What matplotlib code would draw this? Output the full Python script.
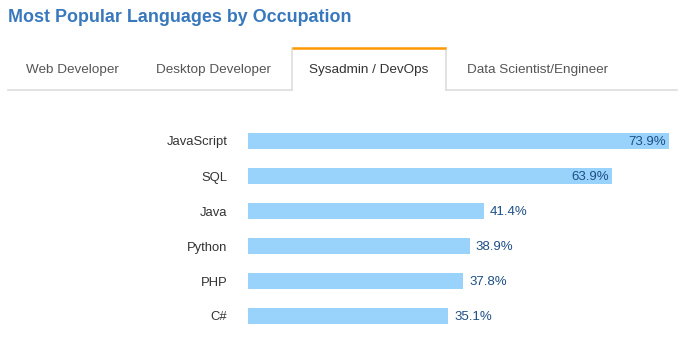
import matplotlib.pyplot as plt

plt.rcParams['font.family'] = ['Liberation Sans', 'DejaVu Sans']

# Dati
languages = ["JavaScript", "SQL", "Java", "Python", "PHP", "C#"]
shares = [73.9, 63.9, 41.4, 38.9, 37.8, 35.1]
tabs = ["Web Developer", "Desktop Developer", "Sysadmin / DevOps", "Data Scientist/Engineer"]
active_tab = 2

W, H = 690, 340
fig = plt.figure(figsize=(W / 100, H / 100), dpi=100)

# Livello di sfondo in coordinate pixel (titolo e schede)
bg = fig.add_axes([0, 0, 1, 1])
bg.set_xlim(0, W)
bg.set_ylim(H, 0)
bg.axis("off")

bg.text(8, 18, "Most Popular Languages by Occupation", fontsize=12.9, fontweight="bold",
        color="#3878bd", va="center", ha="left")

tab_centers = [72, 213, 369, 538]
tab_left, tab_right = 292, 446
for i, (name, cx) in enumerate(zip(tabs, tab_centers)):
    bg.text(cx, 69.5, name, fontsize=9.7, ha="center", va="center",
            color="#333333" if i == active_tab else "#555555")

# Linea di base delle schede, interrotta sotto la scheda attiva
bg.plot([8, tab_left], [90, 90], color="#dddddd", lw=1.2)
bg.plot([tab_right, 677], [90, 90], color="#dddddd", lw=1.2)
bg.plot([tab_left, tab_left], [48, 90], color="#dddddd", lw=1.2)
bg.plot([tab_right, tab_right], [48, 90], color="#dddddd", lw=1.2)
bg.plot([tab_left, tab_right], [48, 48], color="#ff9900", lw=1.8, solid_capstyle="butt")

# Grafico a barre
px_per_unit = 5.7
ax_left, ax_right = 248, 680
ax_top, ax_bottom = 123.5, 333.5
ax = fig.add_axes([ax_left / W, 1 - ax_bottom / H, (ax_right - ax_left) / W, (ax_bottom - ax_top) / H])
ax.set_xlim(0, (ax_right - ax_left) / px_per_unit)
ax.set_ylim(len(languages) - 0.5, -0.5)

ypos = list(range(len(languages)))
ax.barh(ypos, shares, height=0.45, color="#99d3fc")

for y, v in zip(ypos, shares):
    label = f"{v}%"
    if v > 50:
        ax.annotate(label, (v, y), xytext=(-3, -1), textcoords="offset pixels",
                    ha="right", va="center", fontsize=9.5, color="#1d4f86")
    else:
        ax.annotate(label, (v, y), xytext=(6, -1), textcoords="offset pixels",
                    ha="left", va="center", fontsize=9.5, color="#1d4f86")

ax.set_yticks(ypos)
ax.set_yticklabels(languages, fontsize=9.4, color="#333333")
ax.tick_params(axis="y", length=0, pad=15)
ax.set_xticks([])
for s in ax.spines.values():
    s.set_visible(False)
ax.patch.set_alpha(0)

fig.savefig("out.png", dpi=100)
